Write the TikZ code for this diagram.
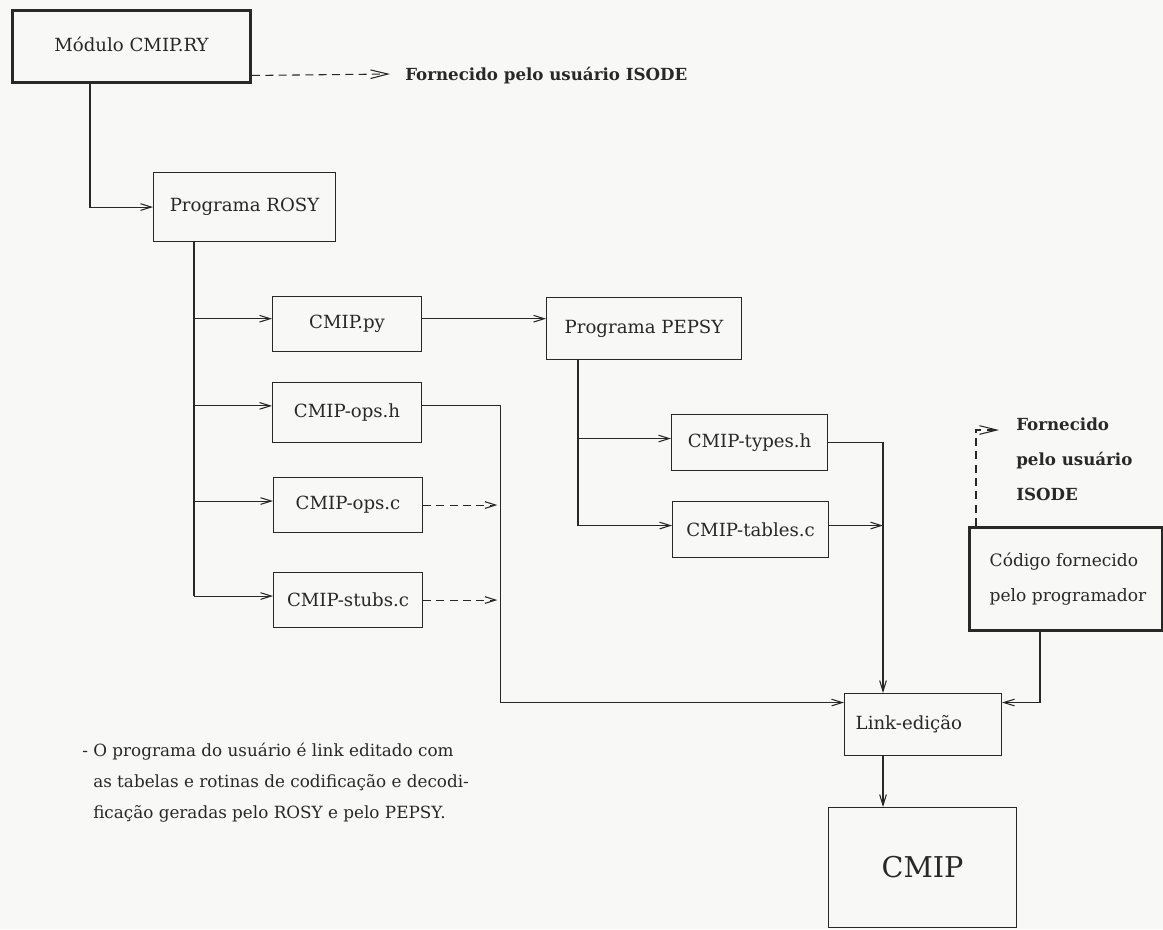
\documentclass[tikz,border=0pt]{standalone}
\usepackage{fontspec}
\setmainfont{DejaVu Serif}
\usetikzlibrary{arrows.meta}
\definecolor{paper}{RGB}{248,248,246}
\definecolor{ink}{RGB}{40,40,40}
\begin{document}
\begin{tikzpicture}[x=0.75pt,y=-0.75pt,
  every node/.style={text=ink},
  txt/.style={font=\fontsize{13.6}{16}\selectfont},
  box/.style={draw=ink,line width=0.8pt,inner sep=0pt,anchor=north west,txt},
  heavybox/.style={box,line width=2.2pt},
  wire/.style={draw=ink,line width=0.8pt},
  tip/.style={-{Straight Barb[length=8pt,width=5pt]}},
  bigtip/.style={-{Straight Barb[length=13pt,width=6.5pt]}},
  dashline/.style={wire,dash pattern=on 6pt off 4pt},
]
\fill[paper] (0,0) rectangle (1163,929);
\useasboundingbox (0,0) rectangle (1163,929);

% boxes (placed by their top-left corners)
\node[heavybox,minimum width=178.5pt,minimum height=54pt] (mod) at (11,9) {\raisebox{3pt}{Módulo CMIP.RY}};
\node[box,minimum width=136.5pt,minimum height=51.75pt] (rosy) at (153,172) {Programa ROSY};
\node[box,minimum width=111.75pt,minimum height=41.25pt] (py) at (272,296) {CMIP.py};
\node[box,minimum width=111.75pt,minimum height=45pt] (opsh) at (272,382) {CMIP-ops.h};
\node[box,minimum width=111.75pt,minimum height=41.25pt] (opsc) at (273,477) {CMIP-ops.c};
\node[box,minimum width=111.75pt,minimum height=41.25pt] (stubs) at (273,572) {CMIP-stubs.c};
\node[box,minimum width=146.25pt,minimum height=46.5pt] (pepsy) at (546,297) {Programa PEPSY};
\node[box,minimum width=117pt,minimum height=42pt] (types) at (671,414) {CMIP-types.h};
\node[box,minimum width=117pt,minimum height=42pt] (tables) at (672,501) {CMIP-tables.c};
\node[box,minimum width=117.75pt,minimum height=46.5pt,text width=101pt,align=left] (link) at (844,693) {Link-edição};
\node[box,minimum width=141pt,minimum height=90pt,font=\fontsize{21.5}{24}\selectfont] (cmip) at (828,807) {CMIP};
\node[heavybox,minimum width=144.75pt,minimum height=77.25pt,align=left,
      font=\fontsize{12.8}{26}\selectfont] (code) at (968,526) {\raisebox{-6pt}{\hspace*{3pt}Código fornecido}\\\raisebox{-6pt}{\hspace*{3pt}pelo programador}};

% free text
\node[anchor=west,inner sep=0pt,font=\bfseries\fontsize{12.5}{15}\selectfont] (isode1) at (405,76) {Fornecido pelo usuário ISODE};
\node[anchor=north west,inner sep=0pt,align=left,font=\bfseries\fontsize{12.5}{26.25}\selectfont] (isode2) at (1016,418) {Fornecido\\pelo usuário\\ISODE};
\node[anchor=north west,inner sep=0pt,align=left,font=\fontsize{12.6}{23.25}\selectfont] (note) at (82,743)
  {- O programa do usuário é link editado com\\\hphantom{- }as tabelas e rotinas de codificação e decodi-\\\hphantom{- }ficação geradas pelo ROSY e pelo PEPSY.};

% helper points
\coordinate (tip1) at (390,74);
\coordinate (tip2) at (999,430);
\coordinate (rt) at ([xshift=30.75pt]rosy.south west);
\coordinate (pt) at ([xshift=24pt]pepsy.south west);
\coordinate (pyin) at ([yshift=4pt]py.west);
\coordinate (pyout) at ([yshift=4pt]py.east);
\coordinate (opshin) at ([yshift=5pt]opsh.west);
\coordinate (opshout) at ([yshift=5pt]opsh.east);
\coordinate (opscin) at ([yshift=3pt]opsc.west);
\coordinate (stubsin) at ([yshift=3pt]stubs.west);
\coordinate (typesin) at ([yshift=3pt]types.west);
\coordinate (tablesin) at ([yshift=3pt]tables.west);
\coordinate (tablesout) at ([yshift=3pt]tables.east);
\coordinate (bus) at ([xshift=58.5pt]opshout);
\coordinate (lk) at ([xshift=29.25pt]link.north west);
\coordinate (lkw) at ([yshift=16.5pt]link.west);
\coordinate (lke) at ([yshift=16.5pt]link.east);
\coordinate (cb) at ([xshift=54pt]code.south west);

% connectors
\draw[dashline,bigtip] ([yshift=-21.75pt]mod.east) -- (tip1);
\draw[wire,tip] ([xshift=59.25pt]mod.south west) |- (rosy.west);
\draw[wire] (rt) -- (rt |- stubsin);
\draw[wire,tip] (rt |- pyin) -- (pyin);
\draw[wire,tip] (rt |- opshin) -- (opshin);
\draw[wire,tip] (rt |- opscin) -- (opscin);
\draw[wire,tip] (rt |- stubsin) -- (stubsin);
\draw[wire,tip] (pyout) -- (pyout -| pepsy.west);
\draw[wire] (pt) -- (pt |- tablesin);
\draw[wire,tip] (pt |- typesin) -- (typesin);
\draw[wire,tip] (pt |- tablesin) -- (tablesin);
\draw[wire,tip] (types.east) -| (lk);
\draw[wire,tip] (tablesout) -- (tablesout -| lk);
\draw[wire,tip] (opshout) -- (bus) |- (lkw);
\draw[dashline,tip,shorten >=2pt] (opsc.east) -- (opsc.east -| bus);
\draw[dashline,tip,shorten >=2pt] (stubs.east) -- (stubs.east -| bus);
\draw[wire,tip] (cb) |- (lke);
\draw[wire,tip] (lk |- link.south) -- (lk |- cmip.north);
\draw[dashline,bigtip] ([xshift=6pt]code.north west) |- (tip2);
\end{tikzpicture}
\end{document}
